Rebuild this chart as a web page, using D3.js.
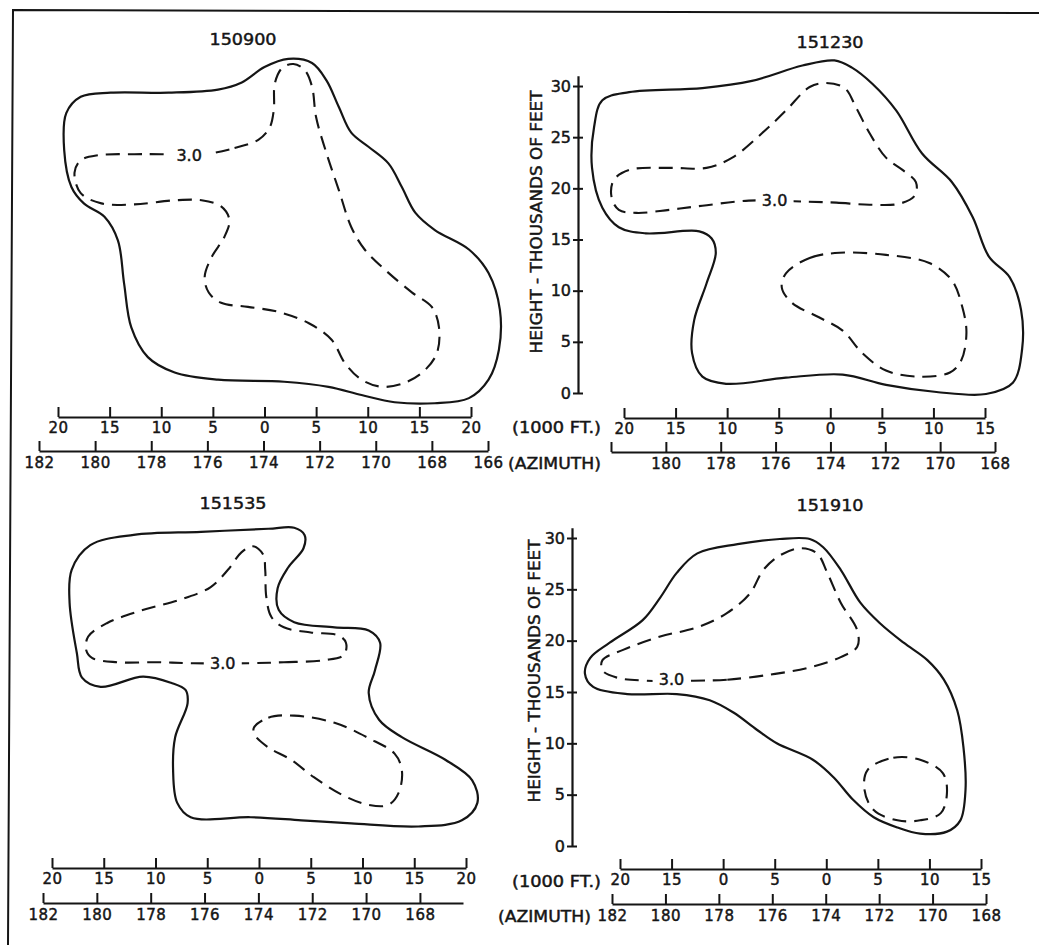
<!DOCTYPE html>
<html><head><meta charset="utf-8">
<script src="https://cdn.jsdelivr.net/npm/d3@7"></script>
<style>
body{margin:0;background:#fff}
svg text{font-family:"DejaVu Sans",sans-serif;fill:#151515}
</style>
</head><body>
<svg id="chart" width="1039" height="945"></svg>
<script>
// ---------------- DATA ----------------
const titles = ["150900", "151230", "151535", "151910"];

// distance scale (1000 FT.) ticks and labels
const distTicksA = [-20, -15, -10, -5, 0, 5, 10, 15, 20];
const distTicksB = [-20, -15, -10, -5, 0, 5, 10, 15];
const distLabels1 = ["20", "15", "10", "5", "0", "5", "10", "15", "20"];
const distLabels2 = ["20", "15", "10", "5", "0", "5", "10", "15"];
const distLabels3 = ["20", "15", "10", "5", "0", "5", "10", "15", "20"];
const distLabels4 = ["20", "15", "0", "5", "0", "5", "10", "15"];

// azimuth ticks and labels
const azTicks1 = [182, 180, 178, 176, 174, 172, 170, 168, 166];
const azLabels1 = ["182", "180", "178", "176", "174", "172", "170", "168", "166"];
const azTicks2 = [182, 180, 178, 176, 174, 172, 170, 168];
const azLabels2 = ["", "180", "178", "176", "174", "172", "170", "168"];
const azTicks3 = [182, 180, 178, 176, 174, 172, 170, 168];
const azLabels3 = ["182", "180", "178", "176", "174", "172", "170", "168"];
const azTicks4 = [182, 180, 178, 176, 174, 172, 170, 168];
const azLabels4 = ["182", "180", "178", "176", "174", "172", "170", "168"];

// height ticks (thousands of feet)
const heightTicks = [0, 5, 10, 15, 20, 25, 30];
const heightLabels = ["0", "5", "10", "15", "20", "25", "30"];

const yTitle = "HEIGHT - THOUSANDS OF FEET";
const distUnit = "(1000 FT.)";
const azUnit = "(AZIMUTH)";
const contourLabel = "3.0";

// contours: [distance (kft, left negative), height (kft)]
const p1Outline = [[2.3,33.8],[4.6,33.4],[6.0,31.7],[7.2,29.1],[8.4,26.6],[10.1,25.2],[12.0,23.6],[13.3,21.3],[14.6,18.8],[16.5,17.1],[19.8,15.2],[21.7,12.9],[22.8,9.3],[22.7,5.4],[21.7,2.5],[19.8,0.7],[16.5,0.2],[12.6,0.3],[9.4,1.0],[6.2,1.8],[1.9,2.3],[-4.5,2.5],[-8.7,3.2],[-11.3,4.7],[-12.9,7.6],[-13.6,11.9],[-14.2,16.1],[-15.5,18.4],[-17.5,19.7],[-18.7,21.3],[-19.4,24.9],[-19.2,28.5],[-17.8,30.1],[-14.9,30.5],[-9.3,30.5],[-4.5,30.8],[-2.2,31.5],[0.0,33.0]];
const p1Dash = [[-5.8,24.5],[-2.9,25.1],[-0.6,25.9],[0.5,27.1],[0.9,28.8],[1.0,31.4],[1.7,32.9],[2.8,33.3],[3.9,32.7],[4.6,31.1],[5.0,28.1],[6.0,24.6],[7.2,21.0],[8.4,17.4],[9.7,15.2],[11.7,13.2],[14.3,11.0],[16.2,9.6],[16.9,7.6],[16.7,5.1],[15.5,3.4],[13.6,2.2],[11.4,1.8],[9.4,2.5],[7.8,4.1],[6.5,6.4],[4.3,8.0],[1.4,9.1],[-1.6,9.6],[-4.2,10.0],[-5.4,11.0],[-5.8,12.5],[-5.1,14.5],[-3.9,16.4],[-3.4,18.1],[-4.2,19.4],[-6.1,20.0],[-8.7,20.0],[-12.6,19.6],[-15.8,19.7],[-17.8,20.7],[-18.4,22.7],[-17.8,23.9],[-16.1,24.4],[-12.6,24.5],[-10.0,24.5]];
const p1LabelPos = [-7.3, 24.4];

const p2Outline = [[0.4,32.5],[2.1,31.8],[4.1,30.2],[6.4,27.6],[8.9,23.4],[11.8,20.6],[13.8,17.2],[15.4,13.3],[17.4,11.3],[18.5,8.1],[18.6,4.3],[17.7,1.0],[15.1,-0.1],[10.3,0.1],[5.4,0.8],[1.2,1.8],[-4.3,1.5],[-10.1,0.9],[-12.4,1.6],[-13.4,3.9],[-13.2,7.1],[-12.0,10.7],[-11.1,13.7],[-11.5,15.1],[-12.7,15.8],[-17.9,15.6],[-20.5,16.2],[-22.1,18.1],[-23.1,22.0],[-22.9,26.0],[-22.1,28.6],[-19.5,29.4],[-12.4,29.8],[-7.6,30.5],[-2.7,32.0]];
const p2DashUpper = [[-2.3,18.7],[0.6,18.6],[3.8,18.4],[6.7,18.5],[8.2,19.3],[8.3,20.6],[7.0,21.8],[5.4,23.0],[3.8,25.4],[2.5,27.9],[1.4,29.8],[-0.4,30.3],[-2.0,29.9],[-4.3,27.6],[-6.6,25.4],[-9.5,23.0],[-12.0,22.0],[-15.6,22.0],[-19.5,21.8],[-21.0,20.8],[-21.2,19.1],[-20.5,17.9],[-18.8,17.6],[-15.6,17.9],[-12.4,18.3],[-7.9,18.8]];
const p2DashLower = [[-4.3,11.7],[-2.0,13.2],[0.9,13.7],[5.4,13.5],[9.6,12.7],[11.8,11.0],[12.8,8.4],[13.2,5.9],[12.7,3.2],[11.6,2.0],[8.6,1.6],[5.4,2.2],[3.1,3.9],[1.2,6.1],[-1.1,7.4],[-3.7,8.8],[-4.7,10.3]];
const p2LabelPos = [-5.4, 18.8];

const p3Outline = [[3.4,31.0],[4.4,30.3],[4.3,29.0],[2.8,27.1],[1.8,25.1],[1.9,23.0],[3.4,21.8],[7.3,21.3],[10.6,21.0],[11.7,19.8],[11.2,17.1],[10.6,14.9],[11.6,12.3],[13.8,10.6],[18.0,8.4],[20.6,6.4],[21.1,4.2],[19.6,2.5],[15.4,1.9],[8.9,2.2],[4.1,2.5],[-0.8,2.8],[-6.6,2.8],[-7.9,4.2],[-8.3,7.4],[-8.1,10.6],[-6.9,13.9],[-7.1,15.2],[-8.5,15.9],[-11.2,16.5],[-15.3,15.5],[-17.1,16.4],[-17.6,18.8],[-18.3,23.7],[-18.1,26.9],[-16.3,29.3],[-12.1,30.3],[-5.6,30.6],[0.9,30.9]];
const p3DashUpper = [[-1.1,17.8],[2.4,17.9],[6.3,18.1],[8.2,18.6],[8.4,19.8],[7.7,20.5],[5.0,20.8],[2.4,21.3],[1.2,22.3],[0.7,24.3],[0.6,26.9],[0.4,28.4],[-0.6,29.2],[-1.7,28.6],[-3.0,26.9],[-4.7,25.2],[-7.3,24.1],[-11.5,22.9],[-14.7,21.7],[-16.5,20.4],[-16.7,19.1],[-16.1,18.3],[-13.7,17.9],[-9.8,17.9],[-6.3,17.8]];
const p3DashLower = [[-0.5,11.5],[0.9,12.5],[3.4,12.7],[7.3,12.0],[10.6,10.5],[13.1,9.0],[13.8,7.4],[13.5,5.2],[12.5,4.0],[10.6,4.0],[8.0,5.0],[5.3,6.7],[3.1,8.4],[0.9,9.6],[-0.4,10.8]];
const p3LabelPos = [-3.5, 17.8];

const p4Outline = [[-1.6,29.9],[-0.3,29.1],[1.4,26.9],[3.3,23.7],[5.2,21.7],[7.5,19.8],[9.8,18.1],[11.4,16.2],[12.7,13.2],[13.3,9.6],[13.5,5.5],[13.0,2.5],[11.7,1.4],[9.1,1.2],[6.9,1.8],[4.6,2.8],[2.6,4.5],[0.7,6.7],[-1.3,8.4],[-4.8,10.0],[-6.7,11.3],[-9.0,13.0],[-11.3,14.2],[-14.5,14.8],[-19.3,14.8],[-22.6,15.5],[-23.4,16.8],[-22.9,18.3],[-21.0,19.8],[-17.8,22.0],[-16.1,24.2],[-14.5,26.6],[-12.5,28.5],[-8.6,29.4],[-4.5,29.9]];
const p4DashUpper = [[-12.9,16.1],[-9.6,16.2],[-5.4,16.7],[-1.6,17.4],[1.4,18.4],[3.0,19.4],[3.0,21.0],[1.4,23.7],[0.1,26.6],[-0.9,28.5],[-2.5,29.0],[-4.5,28.3],[-6.1,26.9],[-7.4,24.6],[-9.6,22.7],[-12.5,21.3],[-16.1,20.4],[-19.7,19.1],[-21.7,18.1],[-21.7,17.1],[-20.3,16.4],[-17.4,16.1]];
const p4DashLower = [[4.0,7.4],[6.5,8.6],[9.1,8.4],[11.3,7.1],[11.7,5.2],[11.1,3.2],[9.1,2.5],[6.9,2.5],[4.6,3.5],[3.7,5.5]];
const p4LabelPos = [-15.0, 16.2];

// ---------------- LAYOUT ----------------
const INK = "#151515";
const svg = d3.select("#chart");
svg.append("rect").attr("width", 1039).attr("height", 945).attr("fill", "#fff");

// frame
svg.append("path").attr("d", "M8,945 L13,10 L1039,13")
  .attr("fill", "none").attr("stroke", INK).attr("stroke-width", 2);

const panels = [
  { title: titles[0], tx: 243, ty: 45,
    xDom: [-20, 20], xRng: [58, 471], y0: 405.3, ppk: 10.25,
    distY: 417, distTicks: distTicksA, distLabels: distLabels1,
    azDom: [182, 166], azRng: [39, 488], azY: 451, azTicks: azTicks1, azLabels: azLabels1,
    outline: p1Outline, dashes: [p1Dash], labelPos: p1LabelPos },
  { title: titles[1], tx: 830, ty: 48,
    xDom: [-20, 15], xRng: [624, 985], y0: 393, ppk: 10.233,
    distY: 418, distTicks: distTicksB, distLabels: distLabels2,
    azDom: [182, 168], azRng: [611, 995], azY: 452, azTicks: azTicks2, azLabels: azLabels2,
    outline: p2Outline, dashes: [p2DashUpper, p2DashLower], labelPos: p2LabelPos,
    yAxisX: 578, yTitleC: [537, 222], unitRight: 601, unitDistCY: 428, unitAzCY: 464, unitAzRight: 601 },
  { title: titles[2], tx: 233, ty: 509,
    xDom: [-20, 20], xRng: [52, 466], y0: 846, ppk: 10.267,
    distY: 868, distTicks: distTicksA, distLabels: distLabels3,
    azDom: [182, 166.4], azRng: [43, 463], azY: 903, azTicks: azTicks3, azLabels: azLabels3,
    outline: p3Outline, dashes: [p3DashUpper, p3DashLower], labelPos: p3LabelPos },
  { title: titles[3], tx: 830, ty: 511,
    xDom: [-20, 15], xRng: [620, 981], y0: 846, ppk: 10.267,
    distY: 869, distTicks: distTicksB, distLabels: distLabels4,
    azDom: [182, 168], azRng: [612, 986], azY: 904, azTicks: azTicks4, azLabels: azLabels4,
    outline: p4Outline, dashes: [p4DashUpper, p4DashLower], labelPos: p4LabelPos,
    yAxisX: 572, yTitleC: [535, 671], unitRight: 601, unitDistCY: 882, unitAzCY: 917, unitAzRight: 591 }
];

function heavy(sel) {
  return sel.attr("stroke", INK).attr("stroke-width", 0.45);
}

function styleAxis(g) {
  g.attr("font-family", null).attr("font-size", null);
  g.selectAll("path.domain").attr("stroke", INK).attr("stroke-width", 2.2);
  g.selectAll(".tick line").attr("stroke", INK).attr("stroke-width", 2);
  g.selectAll(".tick text").attr("fill", INK).style("font-size", "15px")
    .style("letter-spacing", "0.5px").call(heavy);
}

panels.forEach(p => {
  const x = d3.scaleLinear().domain(p.xDom).range(p.xRng);
  const y = d3.scaleLinear().domain([0, 31]).range([p.y0, p.y0 - 31 * p.ppk]);
  const az = d3.scaleLinear().domain(p.azDom).range(p.azRng);
  const g = svg.append("g");

  // title
  g.append("text").attr("x", p.tx).attr("y", p.ty).attr("text-anchor", "middle")
    .style("font-size", "16px").attr("textLength", 67).attr("lengthAdjust", "spacingAndGlyphs")
    .call(heavy).text(p.title);

  // distance axis
  const dAxis = d3.axisBottom(x).tickValues(p.distTicks)
    .tickFormat((d, i) => p.distLabels[i]).tickSize(-10).tickSizeOuter(0).tickPadding(5);
  g.append("g").attr("transform", `translate(0,${p.distY})`).call(dAxis).call(styleAxis);

  // azimuth axis
  const aAxis = d3.axisBottom(az).tickValues(p.azTicks)
    .tickFormat((d, i) => p.azLabels[i]).tickSize(-10).tickSizeOuter(0).tickPadding(6);
  g.append("g").attr("transform", `translate(0,${p.azY})`).call(aAxis).call(styleAxis);

  // height axis
  if (p.yAxisX !== undefined) {
    const yAxis = d3.axisLeft(y).tickValues(heightTicks)
      .tickFormat((d, i) => heightLabels[i]).tickSize(5).tickSizeOuter(0).tickPadding(2);
    const ya = g.append("g").attr("transform", `translate(${p.yAxisX},0)`).call(yAxis).call(styleAxis);
    ya.selectAll(".tick line").attr("x1", 5).attr("x2", -5);
    ya.selectAll(".tick text").style("font-size", "16px").style("letter-spacing", "0px");
    g.append("text")
      .attr("transform", `translate(${p.yTitleC[0]},${p.yTitleC[1]}) rotate(-90)`)
      .attr("text-anchor", "middle").attr("dy", "0.36em")
      .style("font-size", "15px").attr("textLength", 263).attr("lengthAdjust", "spacingAndGlyphs")
      .call(heavy).text(yTitle);
    g.append("text").attr("x", p.unitRight).attr("y", p.unitDistCY).attr("dy", "0.36em")
      .attr("text-anchor", "end").style("font-size", "15px")
      .attr("textLength", 89).attr("lengthAdjust", "spacingAndGlyphs").call(heavy).text(distUnit);
    g.append("text").attr("x", p.unitAzRight).attr("y", p.unitAzCY).attr("dy", "0.36em")
      .attr("text-anchor", "end").style("font-size", "15px")
      .attr("textLength", 93).attr("lengthAdjust", "spacingAndGlyphs").call(heavy).text(azUnit);
  }

  const line = d3.line().x(d => x(d[0])).y(d => y(d[1]))
    .curve(d3.curveCatmullRomClosed.alpha(0.5));

  g.append("path").attr("d", line(p.outline)).attr("fill", "none")
    .attr("stroke", INK).attr("stroke-width", 2.2);

  p.dashes.forEach(dc => {
    g.append("path").attr("d", line(dc)).attr("fill", "none")
      .attr("stroke", INK).attr("stroke-width", 2.1)
      .attr("stroke-dasharray", "14,8");
  });

  // white backing to open the dashed line where the label sits
  const lx = x(p.labelPos[0]), ly = y(p.labelPos[1]);
  g.append("rect").attr("x", lx - 19).attr("y", ly - 8).attr("width", 38).attr("height", 16)
    .attr("fill", "#fff");
  g.append("text").attr("x", lx).attr("y", ly)
    .attr("dy", "0.36em").attr("text-anchor", "middle")
    .style("font-size", "16px").call(heavy)
    .text(contourLabel);
});
</script>
</body></html>
